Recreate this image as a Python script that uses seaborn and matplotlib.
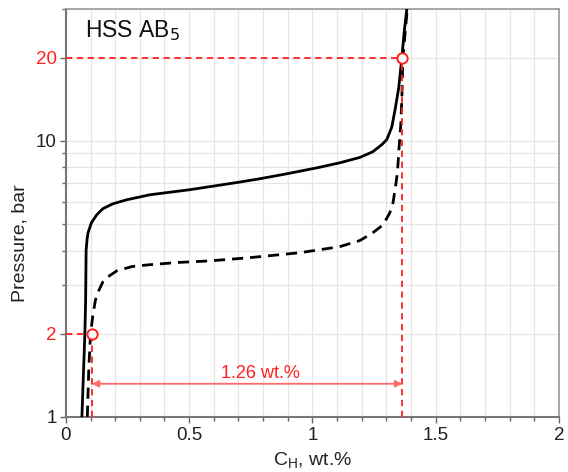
import matplotlib
matplotlib.use("Agg")
import matplotlib.pyplot as plt
import seaborn as sns
import pandas as pd
from matplotlib.ticker import FixedLocator, NullFormatter

# absorption isotherm (solid)
abs_x = [0.065, 0.072, 0.077, 0.080, 0.081, 0.082, 0.086, 0.090, 0.097, 0.104,
         0.125, 0.150, 0.191, 0.247, 0.341, 0.5, 0.6, 0.7, 0.787, 0.9,
         1.02, 1.112, 1.193, 1.245, 1.282, 1.302, 1.322, 1.335, 1.35, 1.363,
         1.372, 1.383]
abs_y = [1.0, 1.5, 2.0, 2.6, 3.2, 4.0, 4.4, 4.64, 4.85, 5.05,
         5.39, 5.67, 5.91, 6.11, 6.37, 6.64, 6.85, 7.07, 7.28, 7.6,
         7.98, 8.32, 8.7, 9.12, 9.68, 10.1, 11.2, 12.9, 15.5, 20.0,
         24.6, 30.0]

# desorption isotherm (dashed)
des_x = [0.087, 0.093, 0.100, 0.11, 0.12, 0.129, 0.15, 0.17, 0.207, 0.268,
         0.333, 0.45, 0.584, 0.746, 0.95, 1.11, 1.193, 1.245, 1.287, 1.314,
         1.327, 1.337, 1.345, 1.351, 1.359, 1.363, 1.367, 1.385]
des_y = [1.0, 1.5, 2.0, 2.35, 2.65, 2.81, 3.08, 3.21, 3.38, 3.5,
         3.55, 3.62, 3.67, 3.77, 3.93, 4.13, 4.35, 4.64, 4.96, 5.48,
         5.96, 6.81, 7.66, 9.28, 11.6, 14.4, 20.0, 30.0]

# capacity markers
cap_x = [0.105, 1.365]
cap_p = [2.0, 20.0]
cap_label = "1.26 wt.%"

x_ticks = [0, 0.5, 1, 1.5, 2]
x_labels = ["0", "0.5", "1", "1.5", "2"]
y_ticks = [1, 2, 10, 20]
y_labels = ["1", "2", "10", "20"]

sns.set_theme(style="white")
plt.rcParams['font.family'] = ['Liberation Sans', 'DejaVu Sans']

RED = "#ff2020"

fig = plt.figure(figsize=(5.68, 4.72), dpi=100)
ax = fig.add_axes([0.116, 0.117, 0.868, 0.864])

df_abs = pd.DataFrame({"x": abs_x, "p": abs_y})
df_des = pd.DataFrame({"x": des_x, "p": des_y})
sns.lineplot(data=df_abs, x="x", y="p", ax=ax, color="black", lw=2.0,
             sort=False, estimator=None, zorder=3)
sns.lineplot(data=df_des, x="x", y="p", ax=ax, color="black", lw=2.0,
             sort=False, estimator=None, zorder=3)
ax.lines[-1].set_dashes((4, 2.5))

ax.set_yscale("log")
ax.set_xlim(0, 2)
ax.set_ylim(1, 30)

# red guide lines
for cx, cp in zip(cap_x, cap_p):
    ax.plot([0, cx], [cp, cp], color=RED, lw=1.3, dashes=(3.5, 2.5), zorder=4)
    ax.plot([cx, cx], [1, cp], color=RED, lw=1.3, dashes=(3.5, 2.5), zorder=4)
ax.scatter(cap_x, cap_p, s=55, facecolor="white", edgecolor=RED, linewidth=1.4, zorder=5)

ax.annotate("", xy=(cap_x[0], 1.317), xytext=(cap_x[1], 1.317),
            arrowprops=dict(arrowstyle="<|-|>", color="#ff6a6a", lw=1.3,
                            mutation_scale=10, shrinkA=0, shrinkB=0), zorder=4)
ax.text(0.79, 1.44, cap_label, color=RED, fontsize=13, ha="center", va="center")

ax.text(0.039, 0.946, "HSS AB$_5$", transform=ax.transAxes, fontsize=16.5,
        ha="left", va="center", color="#111111")

# ticks
ax.xaxis.set_major_locator(FixedLocator(x_ticks))
ax.set_xticklabels(x_labels)
ax.xaxis.set_minor_locator(FixedLocator([i / 10 for i in range(1, 20) if i % 5]))
ax.yaxis.set_major_locator(FixedLocator(y_ticks))
ax.set_yticklabels(y_labels)
ax.yaxis.set_minor_locator(FixedLocator([3, 4, 5, 6, 7, 8, 9, 30]))
ax.yaxis.set_minor_formatter(NullFormatter())
ax.tick_params(axis="both", which="major", direction="out", length=4.5, width=1,
               color="#666666", labelsize=13.5, labelcolor="#222222",
               bottom=True, left=True)
ax.tick_params(axis="x", which="major", pad=3)
ax.tick_params(axis="y", which="major", pad=2)
ax.tick_params(axis="both", which="minor", direction="out", length=3, width=1,
               color="#666666", bottom=True, left=True)
for lbl in ax.get_yticklabels():
    if lbl.get_text() in ("2", "20"):
        lbl.set_color(RED)

ax.grid(True, which="both", color="#e6e6e6", lw=0.9, zorder=0)
ax.set_axisbelow(True)

for side in ["left", "bottom"]:
    ax.spines[side].set_color("#777777")
    ax.spines[side].set_linewidth(1.5)
for side in ["top", "right"]:
    ax.spines[side].set_color("#999999")
    ax.spines[side].set_linewidth(1.2)

ax.set_xlabel("C$_\\mathregular{H}$, wt.%", fontsize=14, color="#222222")
ax.set_ylabel("Pressure, bar", fontsize=14, color="#222222")
ax.xaxis.set_label_coords(0.5, -0.083)
ax.yaxis.set_label_coords(-0.075, 0.426)

fig.savefig("out.png", dpi=100)
